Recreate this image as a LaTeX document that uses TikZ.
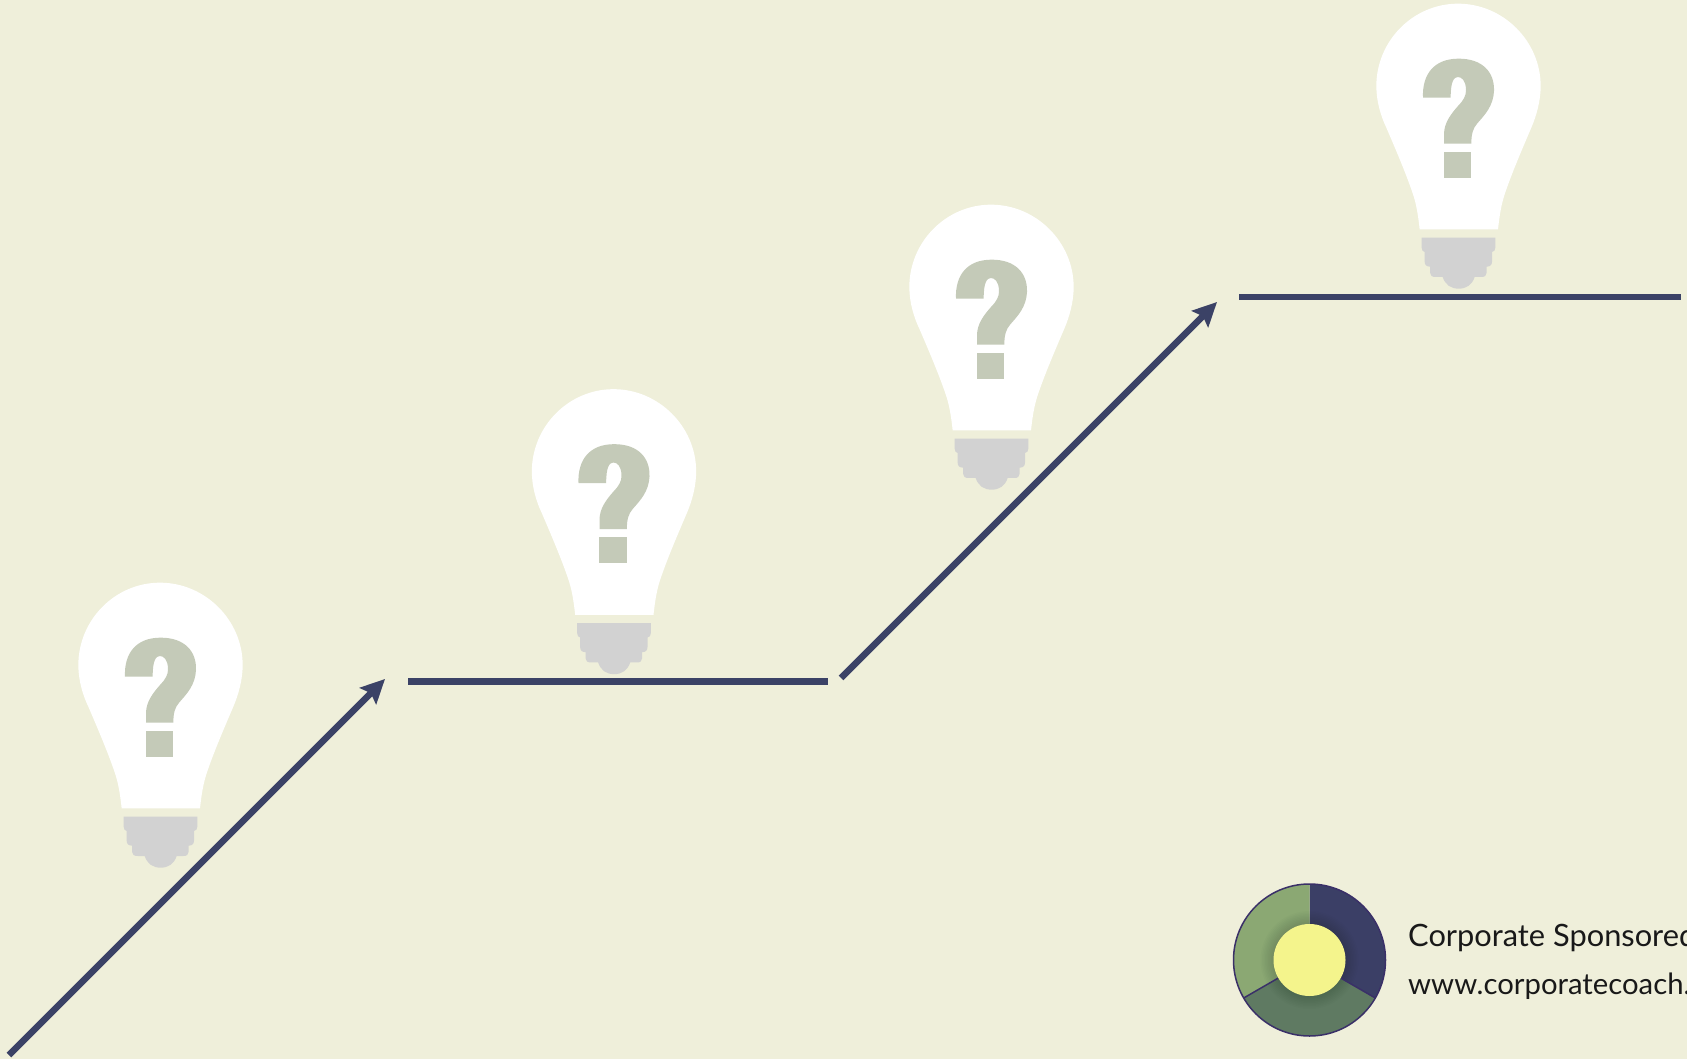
\documentclass[tikz,border=0pt]{standalone}
\usepackage{fontspec}
\setmainfont{Lato}
\usetikzlibrary{arrows.meta}
\definecolor{bgc}{HTML}{EFEFDA}
\definecolor{navy}{HTML}{3B4266}
\definecolor{qmark}{HTML}{C4CAB8}
\definecolor{basec}{HTML}{D2D2D2}
\definecolor{ringnavy}{HTML}{3B3F66}
\definecolor{ringdark}{HTML}{5F7A62}
\definecolor{ringlight}{HTML}{8BA873}
\definecolor{ringedge}{HTML}{3A3068}
\definecolor{hub}{HTML}{F4F48C}
\tikzset{
  x=1pt,y=-1pt,
  flowline/.style={draw=navy,line width=6.5pt},
  flowarrow/.style={flowline,-{Stealth[length=24pt,width=23pt,inset=4pt]}},
  logotext/.style={anchor=base west,inner sep=0pt,text=black!90},
  bulb/.pic={
    \begin{scope}[x=0.33333pt,y=-0.33333pt]
    \fill[white] (300,38) .. controls (165,38) and (55,150) .. (55,285)
      .. controls (55,330) and (68,375) .. (85,410)
      .. controls (115,480) and (145,550) .. (165,610)
      .. controls (175,640) and (180,670) .. (185,715)
      -- (420,715)
      .. controls (425,670) and (430,640) .. (440,610)
      .. controls (460,550) and (490,480) .. (520,410)
      .. controls (535,375) and (548,330) .. (548,285)
      .. controls (548,150) and (435,38) .. (300,38) -- cycle;
    \fill[qmark] (195,320) .. controls (192,250) and (228,203) .. (302,203)
      .. controls (375,203) and (410,245) .. (408,300)
      .. controls (406,345) and (380,372) .. (358,397)
      .. controls (345,412) and (340,428) .. (340,458)
      -- (258,458) -- (258,430)
      .. controls (258,395) and (280,368) .. (300,345)
      .. controls (316,328) and (325,315) .. (324,295)
      .. controls (323,270) and (312,258) .. (300,258)
      .. controls (287,258) and (278,272) .. (278,320) -- cycle;
    \fill[qmark] (257,482) rectangle (340,560);
    \fill[basec] (191,740) -- (412,740) -- (412,770)
      .. controls (412,778) and (408,782) .. (402,783)
      -- (402,812) .. controls (402,822) and (396,827) .. (386,827)
      -- (386,845) .. controls (386,854) and (380,858) .. (370,858)
      -- (350,858)
      .. controls (342,882) and (325,893) .. (302,893)
      .. controls (279,893) and (262,882) .. (254,858)
      -- (234,858) .. controls (222,858) and (216,854) .. (216,845)
      -- (216,827) .. controls (206,827) and (200,822) .. (200,812)
      -- (200,783) .. controls (195,782) and (191,778) .. (191,770) -- cycle;
    \end{scope}
  }
}
\begin{document}
\begin{tikzpicture}
\useasboundingbox (0,0) rectangle (1687,1059);
\clip (0,0) rectangle (1687,1059);
\fill[bgc] (0,0) rectangle (1687,1059);
% bulbs
\pic at (60,570) {bulb};
\pic at (513.5,376.5) {bulb};
\pic at (891,192) {bulb};
\pic at (1358,-9) {bulb};
% connectors
\coordinate (a1s) at (9,1055);
\coordinate (a1e) at (385,679);
\coordinate (l1s) at (408,681.5);
\coordinate (l1e) at (828,681.5);
\coordinate (a2s) at (841,678);
\coordinate (a2e) at (1217,302);
\coordinate (l2s) at (1239,297);
\coordinate (l2e) at (1681,297);
\draw[flowarrow] (a1s) -- (a1e);
\draw[flowline] (l1s) -- (l1e);
\draw[flowarrow] (a2s) -- (a2e);
\draw[flowline] (l2s) -- (l2e);
% logo (y axis points down, so screen angles are negated)
\coordinate (hubc) at (1309.5,960);
\begin{scope}[shift={(hubc)}]
  \fill[ringnavy] (0,0) -- (-90:76) arc[start angle=-90,end angle=30,radius=76] -- cycle;
  \fill[ringdark] (0,0) -- (30:76) arc[start angle=30,end angle=150,radius=76] -- cycle;
  \fill[ringlight] (0,0) -- (150:76) arc[start angle=150,end angle=270,radius=76] -- cycle;
  % soft shadow round the hub
  \foreach \r in {37,38.5,...,50} {\fill[black,opacity=0.014] (0,0) circle[radius=\r];}
  \draw[ringedge,line width=1.5pt] (30:36) -- (30:76);
  \draw[ringedge,line width=1.5pt] (150:36) -- (150:76);
  \draw[ringedge,line width=1.5pt] (0,0) circle[radius=76];
  \fill[hub] (0,0) circle[radius=36];
\end{scope}
\node[logotext,font=\fontsize{30.8}{33}\selectfont] (title) at (1408,946) {Corporate Sponsored};
\node[logotext,font=\fontsize{29.3}{32}\selectfont] (site) at (1408,994) {www.corporatecoach.};
\end{tikzpicture}
\end{document}
